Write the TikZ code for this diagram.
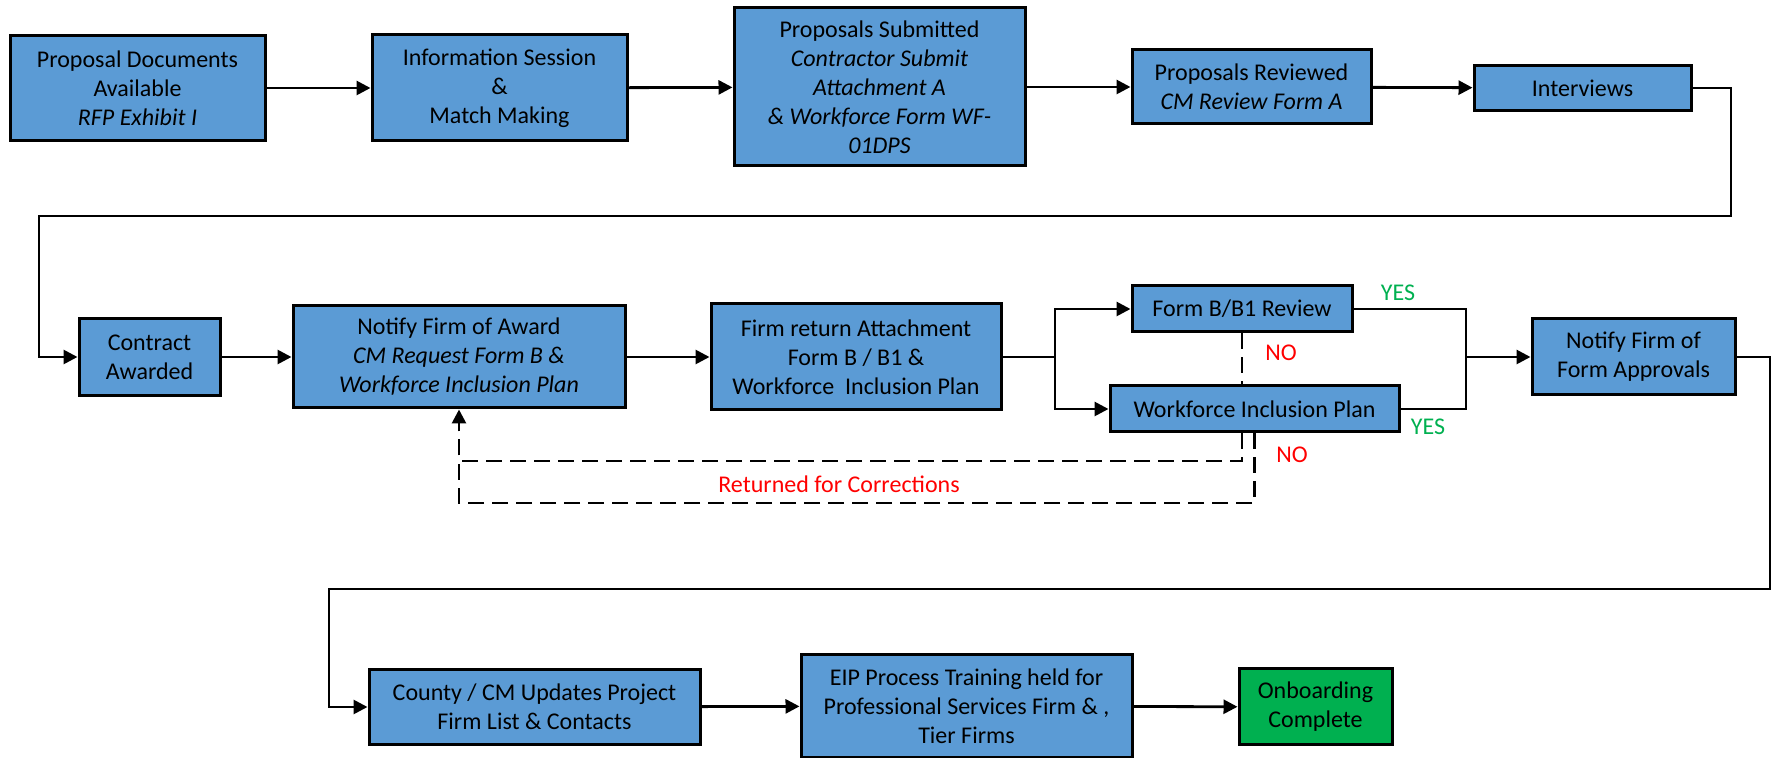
\documentclass[tikz,border=0pt]{standalone}
\usepackage{fontspec}
\setmainfont{Carlito}
\usepackage{tikz}
\usetikzlibrary{arrows.meta,positioning,calc}
\definecolor{StageBlue}{HTML}{5B9BD5}
\definecolor{DoneGreen}{HTML}{00B050}
\definecolor{NoRed}{HTML}{FF0000}

\begin{document}
\begin{tikzpicture}[x=0.5pt,y=-0.5pt,
  stage/.style={draw,line width=1.5pt,fill=StageBlue,align=center,inner sep=2pt,font=\fontsize{12}{14.5}\selectfont},
  flow/.style={line width=1.4pt,-{Triangle[length=7pt,width=7pt]}},
  link/.style={line width=1.4pt},
  back/.style={line width=1.4pt,dashed,dash pattern=on 8pt off 4pt},
  tag/.style={font=\fontsize{12}{14.5}\selectfont}]
  \useasboundingbox (0,0) rectangle (1773,758);

  % Row 1
  \node[stage,minimum width=127.5pt,minimum height=52.5pt] (docs) at (137.5,88) {Proposal Documents\\Available\\\textit{RFP Exhibit I}};
  \node[stage,minimum width=127.5pt,minimum height=53pt] (info) at (499.5,88) {Information Session\\\&\\Match Making};
  \node[stage,minimum width=145.5pt,minimum height=79pt] (subm) at (879.5,87) {Proposals Submitted\\\textit{Contractor Submit}\\\textit{Attachment A}\\\textit{\& Workforce Form WF-}\\\textit{01DPS}};
  \node[stage,minimum width=119.5pt,minimum height=37pt] (revw) at (1251.5,87) {Proposals Reviewed\\\textit{CM Review Form A}};
  \node[stage,minimum width=108.5pt,minimum height=22.5pt] (intv) at (1582.5,88) {Interviews};
  \draw[flow] (docs) -- (info);
  \draw[flow] (info) -- (subm);
  \draw[flow] (subm) -- (revw);
  \draw[flow] (revw) -- (intv);

  % Row 2
  \node[stage,minimum width=70.5pt,minimum height=38.5pt] (award) at (149.5,357) {Contract\\Awarded};
  \node[stage,minimum width=166pt,minimum height=51pt] (notify) at (459,357) {Notify Firm of Award\\\textit{CM Request Form B \&}\\\textit{Workforce Inclusion Plan}};
  \node[stage,minimum width=145pt,minimum height=53pt] (fret) at (856,357) {Firm return Attachment\\Form B / B1 \&\\Workforce~ Inclusion Plan};
  \node[stage,minimum width=110pt,minimum height=23pt] (formb) at (1242,309) {Form B/B1 Review};
  \node[stage,minimum width=144.5pt,minimum height=23pt] (wip) at (1254.5,409) {Workforce Inclusion Plan};
  \node[stage,minimum width=101.5pt,minimum height=38pt] (appr) at (1633.5,357) {Notify Firm of\\Form Approvals};
  \coordinate (t1) at (1731,216);
  \coordinate (t2) at (39,216);
  \draw[flow] (intv.east) -| (t1) -- (t2) |- (award.west);
  \draw[flow] (award) -- (notify);
  \draw[flow] (notify) -- (fret);
  \coordinate (split) at (1055,357);
  \coordinate (merge) at (1466,357);
  \draw[link] (fret.east) -- (split);
  \draw[flow] (split) |- (formb.west);
  \draw[flow] (split) |- (wip.west);
  \draw[link] (formb.east) -| (merge);
  \draw[link] (wip.east) -| (merge);
  \draw[flow] (merge) -- (appr.west);
  \node[tag,text=DoneGreen] (yes1) at (1398,293) {YES};
  \node[tag,text=DoneGreen] (yes2) at (1428,427) {YES};

  % corrections loop
  \coordinate (r1) at (459,461);
  \coordinate (r2) at (459,503);
  \draw[back] (formb.south) -- (formb.south |- wip.north);
  \draw[back,-{Triangle[length=7pt,width=7pt]}] (formb.south |- wip.south) |- (r1) -- (notify.south);
  \draw[back] (wip.south) |- (r2) -- (r1);
  \node[tag,text=NoRed] (no1) at (1281,353) {NO};
  \node[tag,text=NoRed] (no2) at (1292,455) {NO};
  \node[tag,text=NoRed] (retn) at (839,484) {Returned for Corrections};

  % Row 3
  \node[stage,minimum width=165.5pt,minimum height=37.5pt] (cnty) at (534.5,707) {County / CM Updates Project\\Firm List \& Contacts};
  \node[stage,minimum width=165.5pt,minimum height=51.5pt] (eip) at (966.5,706) {EIP Process Training held for\\Professional Services Firm \& ,\\Tier Firms};
  \node[stage,fill=DoneGreen,minimum width=76.5pt,minimum height=38pt] (done) at (1315.5,707) {Onboarding\\Complete};
  \coordinate (u1) at (1770,589);
  \coordinate (u2) at (329,589);
  \draw[flow] (appr.east) -| (u1) -- (u2) |- (cnty.west);
  \draw[flow] (cnty) -- (eip);
  \draw[flow] (eip) -- (done);
\end{tikzpicture}
\end{document}
